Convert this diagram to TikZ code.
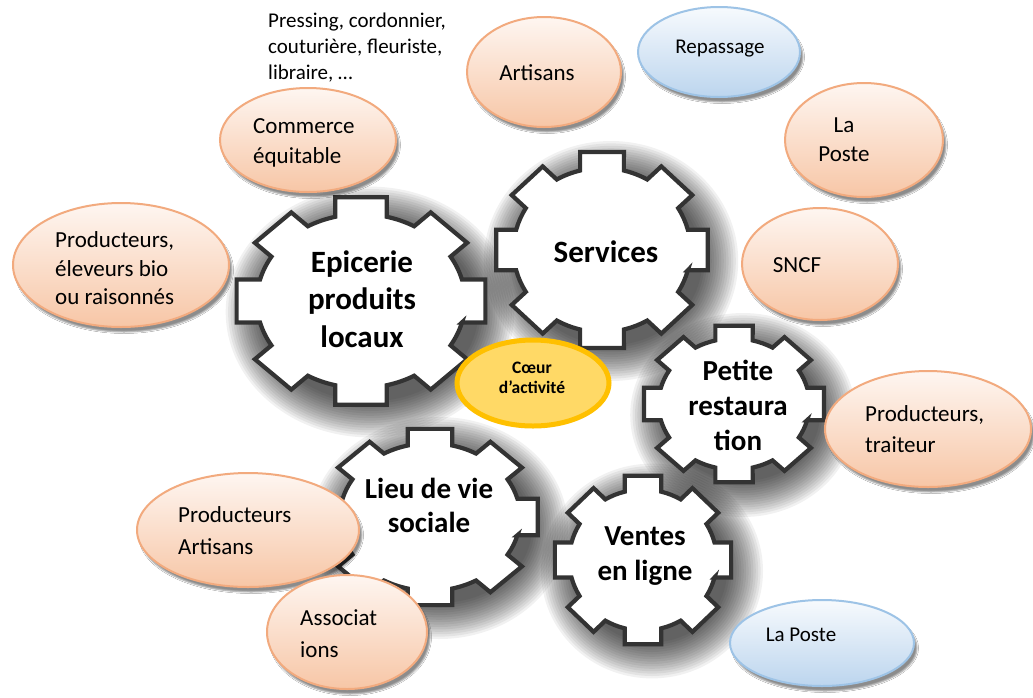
\documentclass[tikz,border=0pt]{standalone}
\usepackage{fontspec}
\setmainfont{Carlito}
\usetikzlibrary{shapes.geometric,shadows.blur}
\definecolor{gearcol}{HTML}{333333}
\definecolor{orangeborder}{HTML}{F2AA7E}
\definecolor{orangetop}{HTML}{FEF6F1}
\definecolor{orangebot}{HTML}{F7C6A6}
\definecolor{blueborder}{HTML}{9DC3E6}
\definecolor{bluetop}{HTML}{F7FAFD}
\definecolor{bluebot}{HTML}{BCD5EE}
\definecolor{yellowfill}{HTML}{FFD966}
\definecolor{yellowborder}{HTML}{FFC000}
\newcommand\gearpts{(-14.3:0.82) \foreach \a in {0,45,...,315}{ -- (\a-11.7:1) -- (\a+11.7:1) -- (\a+14.3:0.82) arc[start angle=\a+14.3, end angle=\a+30.7, radius=0.82]} -- cycle}
\newcommand\gearshadow[4]{%
  \foreach \s in {0,...,15}{%
    \fill[gearshadecol] (#1+9,#2+11) ellipse[x radius=0.9*#3-6+2.4*\s, y radius=0.9*#4-6+2.4*\s];}}
\tikzset{
  gearline/.style={draw=gearcol, line width=4.2pt, fill=white, line join=miter},
  gearshadecol/.style={fill=black, fill opacity=0.055},
  orangeell/.style={ellipse, draw=orangeborder, line width=2pt, top color=orangetop, bottom color=orangebot, inner sep=0pt,
    blur shadow={shadow xshift=3pt, shadow yshift=-5pt, shadow blur radius=1.5pt, shadow opacity=45}},
  blueell/.style={ellipse, draw=blueborder, line width=2pt, top color=bluetop, bottom color=bluebot, inner sep=0pt,
    blur shadow={shadow xshift=3pt, shadow yshift=-5pt, shadow blur radius=1.5pt, shadow opacity=45}},
  geartextA/.style={font=\bfseries\fontsize{31}{37.5}\selectfont, align=center, inner sep=0pt},
  geartextB/.style={font=\bfseries\fontsize{29}{35}\selectfont, align=center, inner sep=0pt},
  bodytext/.style={font=\fontsize{23}{31}\selectfont, align=left, inner sep=0pt},
  smalltext/.style={font=\fontsize{21}{26}\selectfont, align=left, inner sep=0pt},
}
\begin{document}
\begin{tikzpicture}[x=1pt,y=-1pt]
\useasboundingbox[fill=white] (0,0) rectangle (1033,697);
% gear shadows
\gearshadow{361}{301}{127}{106}
\gearshadow{602}{250}{108}{100}
\gearshadow{734}{404}{92}{80}
\gearshadow{430}{517}{110}{90}
\gearshadow{643}{560}{90}{86}
% gears
\draw[gearline, shift={(361,301)}, x={(127pt,0pt)}, y={(0pt,106pt)}] \gearpts;
\draw[gearline, shift={(602,250)}, x={(108pt,0pt)}, y={(0pt,100pt)}] \gearpts;
\draw[gearline, shift={(734,404)}, x={(92pt,0pt)}, y={(0pt,80pt)}] \gearpts;
\draw[gearline, shift={(430,517)}, x={(110pt,0pt)}, y={(0pt,90pt)}] \gearpts;
\draw[gearline, shift={(643,560)}, x={(90pt,0pt)}, y={(0pt,86pt)}] \gearpts;
% gear texts
\node[geartextA] (epicT) at (362,299) {Epicerie\\produits\\locaux};
\node[geartextA] (servT) at (606,252) {Services};
\node[geartextB] (petT) at (738,405) {Petite\\restaura\\tion};
\node[geartextB, font=\bfseries\fontsize{29}{34}\selectfont] (lieuT) at (429,505) {Lieu de vie\\sociale};
\node[geartextB] (ventT) at (645,556) {Ventes\\en ligne};
% ellipses
\node[orangeell, minimum width=154pt, minimum height=110pt] (artE) at (544,72) {};
\node[orangeell, minimum width=176pt, minimum height=104pt] (commE) at (308,140) {};
\node[orangeell, minimum width=216pt, minimum height=124pt] (prodE) at (121,265) {};
\node[orangeell, minimum width=158pt, minimum height=114pt] (lpE) at (864,140) {};
\node[orangeell, minimum width=156pt, minimum height=112pt] (sncfE) at (820,264) {};
\node[orangeell, minimum width=206pt, minimum height=116pt] (ptE) at (928,429) {};
\node[orangeell, minimum width=222pt, minimum height=114pt] (paE) at (248,530) {};
\node[orangeell, minimum width=160pt, minimum height=114pt] (assocE) at (347,632) {};
\node[blueell, minimum width=162pt, minimum height=90pt] (repE) at (719,52) {};
\node[blueell, minimum width=184pt, minimum height=86pt] (lp2E) at (822,643) {};
\node[ellipse, draw=yellowborder, line width=5pt, fill=yellowfill, minimum width=152pt, minimum height=86pt, inner sep=0pt] (coeurE) at (533,383) {};
% ellipse texts
\node[smalltext, anchor=west] (pressT) at (268,48) {Pressing, cordonnier,\\couturière, fleuriste,\\libraire, …};
\node[bodytext] (artT) at (537,72.5) {Artisans};
\node[bodytext, anchor=west, font=\fontsize{23}{30}\selectfont] (commT) at (253,143) {Commerce\\équitable};
\node[bodytext, anchor=west, font=\fontsize{23}{28.5}\selectfont] (prodT) at (55,268.5) {Producteurs,\\éleveurs bio\\ou raisonnés};
\node[bodytext, align=center, font=\fontsize{23}{29}\selectfont] (lpT) at (844,140) {La\\Poste};
\node[bodytext] (sncfT) at (797,265.5) {SNCF};
\node[bodytext, anchor=west] (ptT) at (865,429.5) {Producteurs,\\traiteur};
\node[bodytext, anchor=west, font=\fontsize{23}{32}\selectfont] (paT) at (178,531) {Producteurs\\Artisans};
\node[bodytext, anchor=west, font=\fontsize{23}{32}\selectfont] (assocT) at (300,633.5) {Associat\\ions};
\node[smalltext] (repT) at (720,48.7) {Repassage};
\node[smalltext] (lp2T) at (801,635) {La Poste};
\node[font=\bfseries\fontsize{17.5}{20}\selectfont, align=center, inner sep=0pt] (coeurT) at (532,377.5) {Cœur\\d’activité};
\end{tikzpicture}
\end{document}
